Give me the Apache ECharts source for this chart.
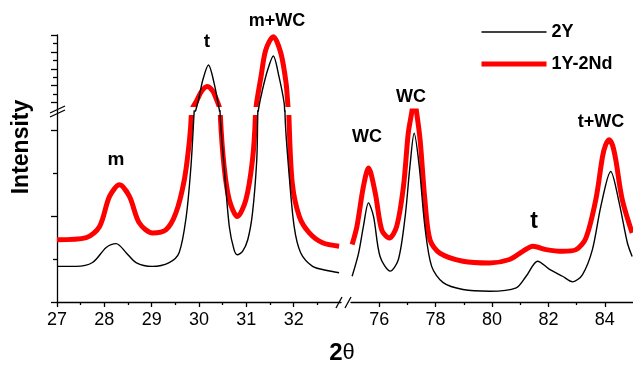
<!DOCTYPE html>
<html>
<head>
<meta charset="utf-8">
<script src="https://cdn.jsdelivr.net/npm/echarts@6/dist/echarts.min.js"></script>
<style>
  html, body { margin: 0; padding: 0; background: #fff; }
  #chart { width: 633px; height: 368px; }
</style>
</head>
<body>
<div id="chart"></div>
<script>
// 2theta (deg) / intensity (a.u.).
// intensity 0..4.45 sits below the y break, 5..14 above it (compressed scale)
const thetaLeft2Y = [27.0, 27.4, 27.75, 28.04, 28.25, 28.46, 28.67, 29.01, 29.37, 29.58, 29.73, 29.83, 29.89, 29.99, 30.08, 30.2, 30.32, 30.43, 30.45, 30.53, 30.64, 30.74, 30.81, 30.92, 31.03, 31.13, 31.22, 31.24, 31.26, 31.34, 31.45, 31.57, 31.69, 31.8, 31.82, 31.89, 32.01, 32.15, 32.4, 32.68, 32.96]
const intensityLeft2Y = [0.83, 0.83, 0.92, 1.27, 1.36, 1.15, 0.92, 0.83, 0.92, 1.15, 1.99, 3.16, 4.29, 6.3, 8.67, 10.45, 8.28, 5.12, 4.29, 3.16, 1.76, 1.22, 1.1, 1.18, 1.45, 2.07, 3.31, 4.29, 5.32, 7.49, 9.86, 11.52, 9.06, 5.91, 4.29, 3.16, 1.76, 1.14, 0.83, 0.74, 0.68]

const thetaLeftNd = [27.0, 27.62, 27.9, 28.11, 28.32, 28.53, 28.74, 29.02, 29.3, 29.51, 29.69, 29.8, 29.84, 29.86, 29.94, 30.05, 30.17, 30.29, 30.36, 30.43, 30.45, 30.53, 30.64, 30.81, 30.99, 31.13, 31.19, 31.21, 31.31, 31.41, 31.57, 31.73, 31.84, 31.88, 31.9, 31.97, 32.12, 32.33, 32.61, 32.96]
const intensityLeftNd = [1.45, 1.5, 1.76, 2.46, 2.73, 2.46, 1.84, 1.61, 1.68, 2.07, 2.85, 3.78, 4.4, 5.32, 6.1, 7.29, 7.9, 7.37, 6.5, 5.44, 4.36, 3.16, 2.38, 1.99, 2.38, 3.31, 4.29, 5.71, 9.06, 12.23, 13.8, 11.84, 8.28, 5.51, 4.32, 2.77, 1.99, 1.61, 1.38, 1.3]

const thetaRight2Y = [75.04, 75.27, 75.44, 75.62, 75.8, 76.03, 76.39, 76.68, 76.92, 77.09, 77.24, 77.42, 77.62, 77.86, 78.27, 78.97, 79.92, 80.86, 81.21, 81.62, 82.04, 82.5, 82.86, 83.21, 83.56, 83.86, 84.21, 84.51, 84.8, 84.97]
const intensityRight2Y = [0.6, 1.14, 1.76, 2.31, 1.99, 1.06, 0.72, 0.99, 1.99, 3.16, 3.93, 3.16, 1.76, 0.83, 0.45, 0.29, 0.25, 0.33, 0.6, 0.95, 0.76, 0.6, 0.47, 0.64, 1.22, 2.23, 3.04, 2.31, 1.38, 1.06]

const thetaRightNd = [75.04, 75.21, 75.44, 75.62, 75.86, 76.09, 76.36, 76.62, 76.86, 77.03, 77.15, 77.24, 77.33, 77.45, 77.62, 77.8, 78.15, 78.97, 79.92, 80.62, 81.09, 81.45, 81.92, 82.5, 82.98, 83.33, 83.68, 83.92, 84.03, 84.15, 84.27, 84.39, 84.62, 84.97]
const intensityRightNd = [1.34, 1.76, 2.69, 3.12, 2.54, 1.68, 1.49, 1.76, 2.69, 3.93, 4.4, 4.75, 4.4, 3.78, 2.38, 1.45, 1.14, 0.95, 0.91, 0.99, 1.18, 1.3, 1.22, 1.18, 1.22, 1.49, 2.38, 3.39, 3.66, 3.78, 3.66, 3.31, 2.38, 1.61]

const leftTicks = [27, 28, 29, 30, 31, 32]
const rightTicks = [76, 78, 80, 82, 84]
const rightMinorTicks = [77, 79, 81, 83]
const lowerMajor = [0, 2, 4]
const lowerMinor = [1, 3]
const upperMajor = [6, 8, 10, 12, 14]
const upperMinor = [7, 9, 11, 13]

const peakLabels = [
  { text: 'm', x: 116, y: 160, size: 19 },
  { text: 't', x: 207, y: 42, size: 19 },
  { text: 'm+WC', x: 277, y: 21, size: 18 },
  { text: 'WC', x: 367, y: 137, size: 18 },
  { text: 'WC', x: 411, y: 97, size: 18 },
  { text: 't', x: 534, y: 222, size: 23 },
  { text: 't+WC', x: 601, y: 122, size: 18 }
]

const FONT = '"Liberation Sans", Arial, Helvetica, sans-serif'
const zip = (xs, ys) => xs.map((x, i) => [x, ys[i]])

// extra axis that only draws the short (minor) ticks
function tickAxis(grid, min, max, ticks, len, position) {
  return {
    type: 'value', gridIndex: grid, min, max, position,
    axisLine: { show: false },
    axisTick: { show: true, customValues: ticks, length: len, lineStyle: { color: '#000', width: 1.3 } },
    axisLabel: { show: false },
    splitLine: { show: false }
  }
}

function yAxisMain(grid, min, max, ticks) {
  return {
    type: 'value', gridIndex: grid, min, max, position: 'left',
    axisLine: { show: true, onZero: false, lineStyle: { color: '#000', width: 1.3 } },
    axisTick: { show: true, customValues: ticks, length: 6, lineStyle: { color: '#000', width: 1.3 } },
    axisLabel: { show: false },
    splitLine: { show: false }
  }
}

function curve(name, data, xi, yi, color, width, z) {
  return {
    name, type: 'line', data, xAxisIndex: xi, yAxisIndex: yi,
    symbol: 'none', smooth: 0.3, z,
    lineStyle: { color, width },
    itemStyle: { color }
  }
}

const chart = echarts.init(document.getElementById('chart'), null, { renderer: 'canvas' })

const option = {
  animation: false,
  backgroundColor: '#fff',
  grid: [
    { left: 57, top: 111, width: 284, height: 191 },  // left, below break
    { left: 57, top: 35, width: 284, height: 76 },    // left, above break
    { left: 351, top: 111, width: 283, height: 191 }  // right panel
  ],
  xAxis: [
    {
      type: 'value', gridIndex: 0, min: 27, max: 33, interval: 1, position: 'bottom',
      axisLine: { show: true, onZero: false, lineStyle: { color: '#000', width: 1.3 } },
      axisTick: { show: true, customValues: leftTicks, length: 5, lineStyle: { color: '#000', width: 1.3 } },
      minorTick: { show: true, splitNumber: 2, length: 3, lineStyle: { color: '#000', width: 1.3 } },
      axisLabel: { customValues: leftTicks, color: '#000', fontSize: 18, fontFamily: FONT, margin: 9 },
      splitLine: { show: false }
    },
    { type: 'value', gridIndex: 1, min: 27, max: 33, show: false },
    {
      type: 'value', gridIndex: 2, min: 75, max: 85, position: 'bottom',
      axisLine: { show: true, onZero: false, lineStyle: { color: '#000', width: 1.3 } },
      axisTick: { show: true, customValues: rightTicks, length: 5, lineStyle: { color: '#000', width: 1.3 } },
      axisLabel: { customValues: rightTicks, color: '#000', fontSize: 18, fontFamily: FONT, margin: 9 },
      splitLine: { show: false }
    },
    tickAxis(2, 75, 85, rightMinorTicks, 3, 'bottom')
  ],
  yAxis: [
    yAxisMain(0, 0, 4.45, lowerMajor),
    yAxisMain(1, 5, 14, upperMajor),
    { type: 'value', gridIndex: 2, min: 0, max: 4.45, show: false },
    tickAxis(0, 0, 4.45, lowerMinor, 4, 'left'),
    tickAxis(1, 5, 14, upperMinor, 4, 'left')
  ],
  legend: {
    orient: 'vertical', left: 474, top: 18,
    itemWidth: 65, itemHeight: 14, itemGap: 14,
    data: [
      { name: '2Y', lineStyle: { width: 1.6 } },
      { name: '1Y-2Nd', lineStyle: { width: 5 } }
    ],
    itemStyle: { opacity: 0 },
    textStyle: { color: '#000', fontSize: 18, fontWeight: 'bold', fontFamily: FONT }
  },
  series: [
    curve('1Y-2Nd', zip(thetaLeftNd, intensityLeftNd), 0, 0, '#ff0000', 5, 2),
    curve('1Y-2Nd', zip(thetaLeftNd, intensityLeftNd), 1, 1, '#ff0000', 5, 2),
    curve('1Y-2Nd', zip(thetaRightNd, intensityRightNd), 2, 2, '#ff0000', 5, 2),
    curve('2Y', zip(thetaLeft2Y, intensityLeft2Y), 0, 0, '#000000', 1.4, 6),
    curve('2Y', zip(thetaLeft2Y, intensityLeft2Y), 1, 1, '#000000', 1.4, 6),
    curve('2Y', zip(thetaRight2Y, intensityRight2Y), 2, 2, '#000000', 1.4, 6)
  ],
  graphic: [
    // gap of the y break (cuts the thick red trace only)
    { type: 'rect', z: 4, shape: { x: 59, y: 107, width: 282, height: 8 }, style: { fill: '#fff' } },
    // break marks
    { type: 'line', z: 10, shape: { x1: 50, y1: 113, x2: 65, y2: 106 }, style: { stroke: '#000', lineWidth: 1.3 } },
    { type: 'line', z: 10, shape: { x1: 50, y1: 117, x2: 65, y2: 110 }, style: { stroke: '#000', lineWidth: 1.3 } },
    { type: 'line', z: 10, shape: { x1: 336, y1: 308, x2: 342, y2: 297 }, style: { stroke: '#000', lineWidth: 1.3 } },
    { type: 'line', z: 10, shape: { x1: 345, y1: 308, x2: 351, y2: 297 }, style: { stroke: '#000', lineWidth: 1.3 } },
    // axis titles
    {
      type: 'text', z: 10, x: 22, y: 147, rotation: Math.PI / 2,
      style: { text: 'Intensity', font: 'bold 23px ' + FONT, fill: '#000', textAlign: 'center', textVerticalAlign: 'middle' }
    },
    {
      type: 'text', z: 10, x: 342, y: 353,
      style: {
        text: '{b|2}{n|θ}', fill: '#000', textAlign: 'center', textVerticalAlign: 'middle',
        rich: {
          b: { fontSize: 24, fontWeight: 'bold', fontFamily: FONT },
          n: { fontSize: 22, fontFamily: FONT }
        }
      }
    }
  ].concat(peakLabels.map(p => ({
    type: 'text', z: 10, x: p.x, y: p.y,
    style: { text: p.text, font: 'bold ' + p.size + 'px ' + FONT, fill: '#000', textAlign: 'center', textVerticalAlign: 'middle' }
  })))
}

chart.setOption(option)
</script>
</body>
</html>
